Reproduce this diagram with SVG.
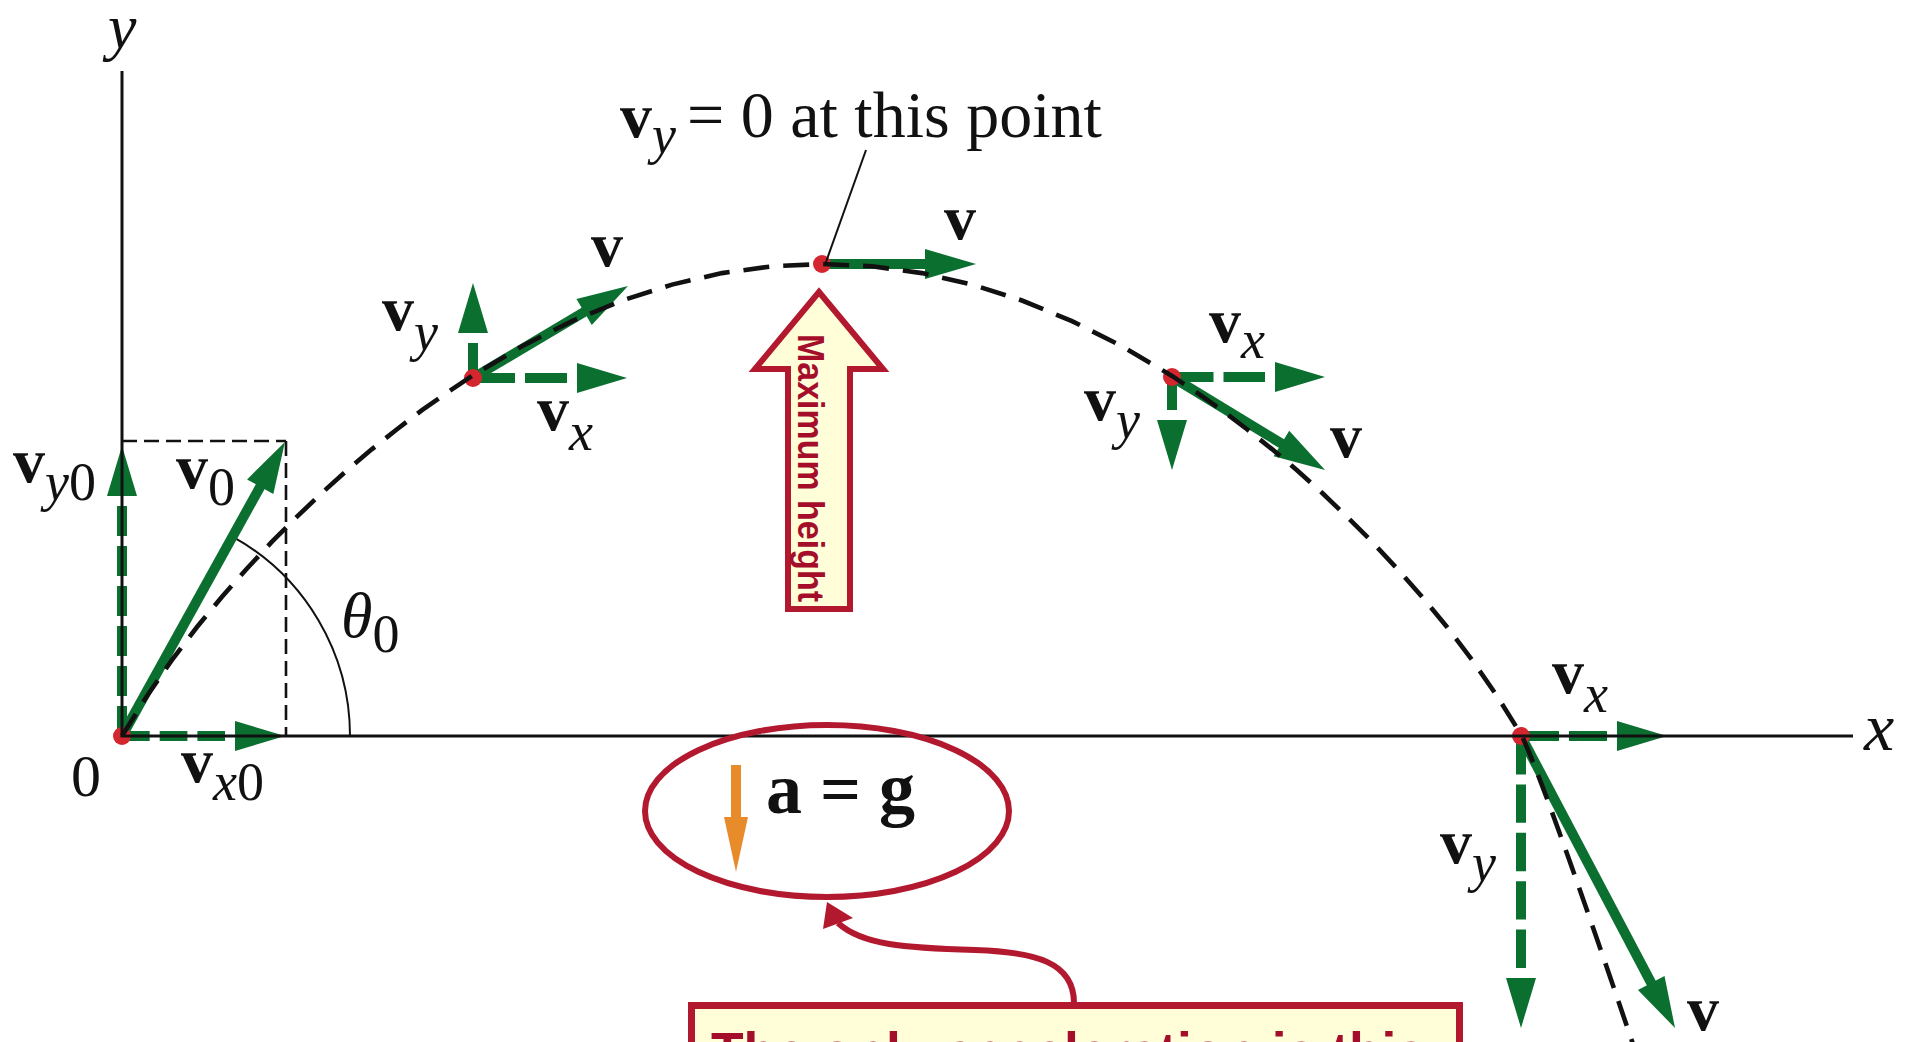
<svg xmlns="http://www.w3.org/2000/svg" width="1912" height="1042" viewBox="0 0 1912 1042">
<style>
.ax{stroke:#111;stroke-width:3;fill:none}
.guide{stroke:#111;stroke-width:2.6;stroke-dasharray:15 7;fill:none}
.traj{stroke:#111;stroke-width:4.6;stroke-dasharray:26 14;fill:none}
.vs{stroke:#0b6f30;stroke-width:10;fill:none;marker-end:url(#hs)}
.vd{stroke:#0b6f30;stroke-width:10;fill:none;marker-end:url(#hd)}
.dot{fill:#d3262e}
.bv{font-family:"Liberation Serif",serif;font-weight:bold;font-size:64px;fill:#111}
.it{font-family:"Liberation Serif",serif;font-style:italic;font-weight:normal;font-size:54px;fill:#111}
.rm{font-family:"Liberation Serif",serif;font-style:normal;font-weight:normal;font-size:54px;fill:#111}
.red{stroke:#b3192e;stroke-width:6;fill:none}
.box{stroke:#b3192e;stroke-width:6;fill:#fffed8}
.note{font-family:"Liberation Sans",Arial,sans-serif;font-weight:bold;fill:#a50e2a}
</style>
<defs>
<marker id="hs" markerUnits="userSpaceOnUse" orient="auto" viewBox="-5 -20 70 40" markerWidth="70" markerHeight="40" refX="0" refY="0"><path d="M-1,-15 L50,0 L-1,15 Z" fill="#0b6f30"/></marker>
<marker id="hd" markerUnits="userSpaceOnUse" orient="auto" viewBox="-5 -20 70 40" markerWidth="70" markerHeight="40" refX="0" refY="0"><path d="M10,-15 L60,0 L10,15 Z" fill="#0b6f30"/></marker>
</defs>
<rect x="0" y="0" width="1912" height="1042" fill="#fff"/>

<g id="guides">
<path class="guide" d="M122,441 H286 M286,441 V736"/>
<path d="M350,736 A228,228 0 0 0 232.5,536.6" stroke="#111" stroke-width="2" fill="none"/>
</g>

<g id="connectors">
<path class="vs" d="M122,736 L260.7,485.8"/>
<path class="vd" d="M122,736 V506" style="stroke-dasharray:30 10"/>
<path class="vd" d="M122,736 H225" style="stroke-dasharray:27.7 10"/>
<path class="vs" d="M473,378 L585,311.5"/>
<path class="vd" d="M473,378 V343" style="stroke-dasharray:35 10"/>
<path class="vd" d="M473,378 H567" style="stroke-dasharray:42 10"/>
<path class="vs" d="M822,264 H926"/>
<path class="vs" d="M1172,377 L1282.3,444"/>
<path class="vd" d="M1172,377 H1265" style="stroke-dasharray:41.5 10"/>
<path class="vd" d="M1172,377 V410" style="stroke-dasharray:33 10"/>
<path class="vs" d="M1521,736 L1651.7,983.8"/>
<path class="vd" d="M1521,736 H1607" style="stroke-dasharray:38 10"/>
<path class="vd" d="M1521,736 V968" style="stroke-dasharray:38.4 10"/>
<path d="M736,765 V822" stroke="#e88b2a" stroke-width="10" fill="none"/>
<path d="M724,817 L748,817 L736,872 Z" fill="#e88b2a"/>
</g>

<g id="dots">
<circle class="dot" cx="122" cy="736" r="9"/>
<circle class="dot" cx="473" cy="378" r="9"/>
<circle class="dot" cx="822" cy="264" r="9"/>
<circle class="dot" cx="1172" cy="377" r="9"/>
<circle class="dot" cx="1521" cy="736" r="9"/>
</g>

<g id="axes">
<path class="ax" d="M122,71 V736 H1853"/>
<text class="it" x="108" y="48" style="font-size:64px">y</text>
<text class="it" x="1864" y="750" style="font-size:68px">x</text>
<text class="rm" x="71" y="796" style="font-size:60px">0</text>
</g>

<g id="trajectory">
<path class="traj" d="M122,736 L147,696 L172,659.9 L197,627 L222,596.7 L247,568.5 L272,541.7 L297,516.7 L322,492.8 L347,470.3 L372,449.1 L397,429.2 L422,410.2 L447,392.6 L472,375.9 L522,346.2 L572,321.1 L622,300.5 L672,284.6 L722,273.1 L772,266.3 L822,264 L872,266.3 L922,273.1 L972,284.6 L1022,300.5 L1072,321.1 L1122,346.2 L1172,375.9 L1197,392.6 L1222,410.2 L1247,429.2 L1272,449.1 L1297,470.3 L1322,492.8 L1347,516.7 L1372,541.7 L1397,568.5 L1422,596.7 L1447,627 L1472,659.9 L1497,696 L1522,736 Q1545,785 1635,1050"/>
</g>

<g id="origin-labels">
<text class="bv" x="13" y="482">v<tspan class="it" y="500">y</tspan><tspan class="rm">0</tspan></text>
<text class="bv" x="176" y="488">v<tspan class="rm" y="505">0</tspan></text>
<text class="bv" x="181" y="782">v<tspan class="it" y="800">x</tspan><tspan class="rm">0</tspan></text>
<text class="it" x="341" y="637" style="font-size:64px">θ<tspan class="rm" y="652">0</tspan></text>
</g>

<g id="point1">
<text class="bv" x="591" y="266">v</text>
<text class="bv" x="382" y="330">v<tspan class="it" y="350">y</tspan></text>
<text class="bv" x="537" y="430">v<tspan class="it" y="450">x</tspan></text>
</g>

<g id="top-point">
<text class="bv" x="944" y="239">v</text>
<path d="M826,262 L866,150" stroke="#111" stroke-width="2" fill="none"/>
<text class="bv" x="620" y="137">v<tspan class="it" y="153">y</tspan></text>
<text class="rm" x="687" y="137" style="font-size:66px">= 0 at this point</text>
</g>

<g id="point3">
<text class="bv" x="1209" y="342">v<tspan class="it" y="358">x</tspan></text>
<text class="bv" x="1084" y="420">v<tspan class="it" y="438">y</tspan></text>
<text class="bv" x="1330" y="457">v</text>
</g>

<g id="landing">
<text class="bv" x="1552" y="693">v<tspan class="it" y="712">x</tspan></text>
<text class="bv" x="1440" y="863">v<tspan class="it" y="881">y</tspan></text>
<text class="bv" x="1687" y="1030">v</text>
</g>

<g id="max-height">
<polygon class="box" points="819,292 883,369 850,369 850,609 788,609 788,369 755,369"/>
<text class="note" transform="translate(798,334) rotate(90)" style="font-size:37px" textLength="268" lengthAdjust="spacingAndGlyphs">Maximum height</text>
</g>

<g id="accel">
<ellipse class="red" cx="827" cy="811" rx="182" ry="86"/>
<text class="bv" x="766" y="813" style="font-size:72px">a = g</text>
</g>

<g id="callout">
<path class="red" d="M1074,1003 C1074,962 1035,952 975,950 C905,948 862,945 838,923"/>
<polygon points="827,902 823,929 853,918" fill="#b3192e"/>
<rect x="691.5" y="1005.5" width="768" height="90" fill="#fffed8" stroke="#b3192e" stroke-width="7"/>
<text class="note" x="711" y="1070" style="font-size:53.4px">The only acceleration is this</text>
</g>
</svg>
